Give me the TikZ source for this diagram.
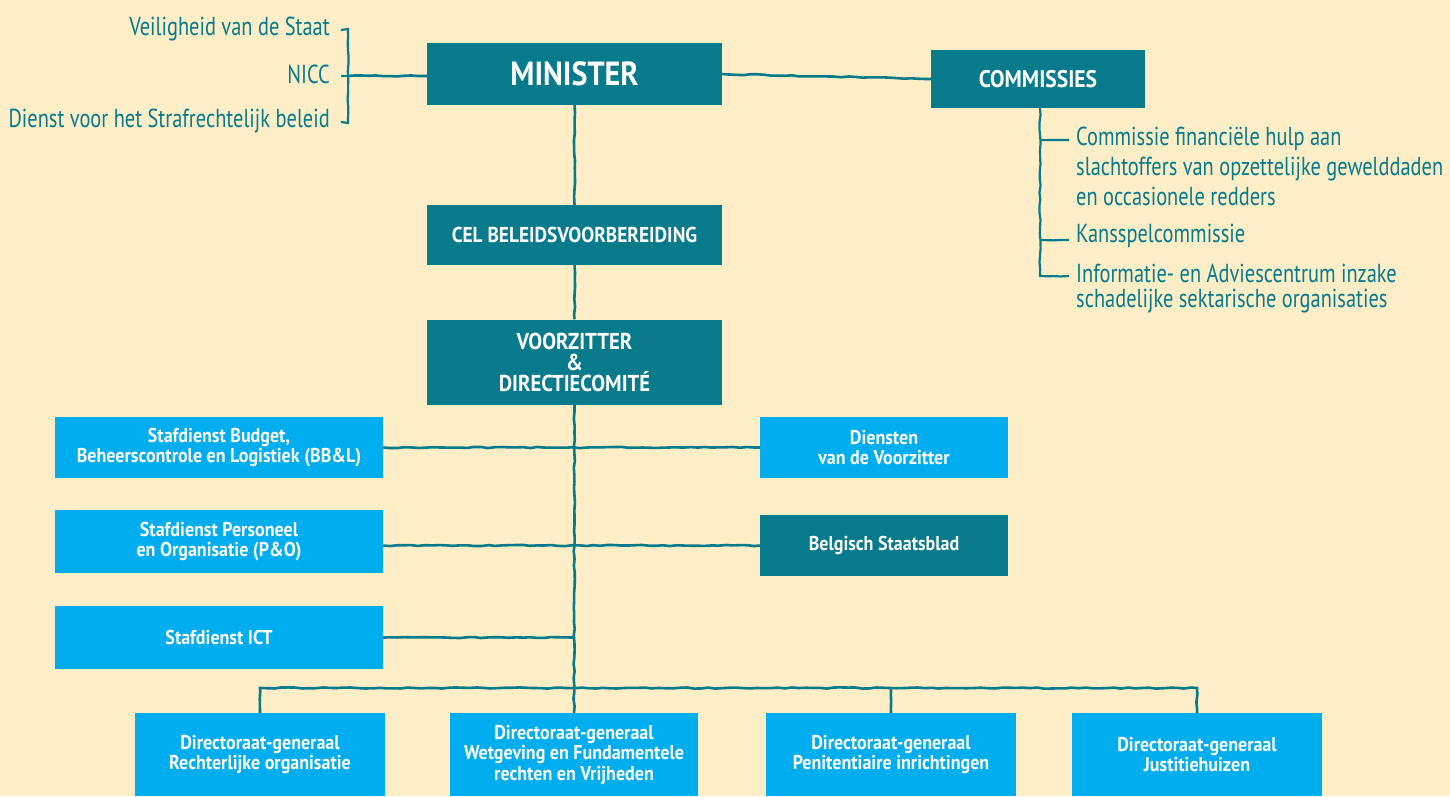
\documentclass[tikz,border=0pt]{standalone}
\usepackage{fontspec}
\setmainfont{PT Sans}[FakeStretch=0.785]
\newfontfamily\boxfont{PT Sans}[FakeStretch=0.9]
\usetikzlibrary{decorations.pathmorphing}
\definecolor{bg}{HTML}{FDEEC7}
\definecolor{dteal}{HTML}{077A8B}
\definecolor{lblue}{HTML}{00AEEF}
\begin{document}
\begin{tikzpicture}[x=1pt,y=-1pt,
  dbox/.style={fill=dteal,text=white,align=center,inner sep=0pt},
  lbox/.style={fill=lblue,text=white,align=center,inner sep=0pt,font=\boxfont\bfseries\fontsize{20}{20.5}\selectfont},
  conn/.style={draw=dteal,line width=2.6pt,decorate,decoration={random steps,segment length=7pt,amplitude=0.6pt}},
  lab/.style={text=dteal,inner sep=0pt,font=\fontsize{26}{30}\selectfont,align=left}]
\pgfmathsetseed{7}
\clip (0,0) rectangle (1450,796);
\fill[bg] (0,0) rectangle (1450,796);

% main boxes
\node[dbox,minimum width=295,minimum height=62,font=\boxfont\bfseries\fontsize{33.5}{36}\selectfont] (minister) at (574.5,74) {MINISTER};
\node[dbox,minimum width=214,minimum height=58,font=\boxfont\bfseries\fontsize{24}{26}\selectfont] (comm) at (1038,79) {COMMISSIES};
\node[dbox,minimum width=295,minimum height=60,font=\boxfont\bfseries\fontsize{21.5}{24}\selectfont] (cel) at (574.5,235) {CEL BELEIDSVOORBEREIDING};
\node[dbox,minimum width=295,minimum height=85,font=\boxfont\bfseries\fontsize{23}{21}\selectfont] (voor) at (574.5,362) {VOORZITTER\\\&\\DIRECTIECOMITÉ};

% staff boxes
\node[lbox,minimum width=328,minimum height=61] (budget) at (219,447.5) {Stafdienst Budget,\\Beheerscontrole en Logistiek (BB\&L)};
\node[lbox,minimum width=248,minimum height=61] (diensten) at (884,447.5) {Diensten\\van de Voorzitter};
\node[lbox,minimum width=328,minimum height=63] (personeel) at (219,541.5) {Stafdienst Personeel\\en Organisatie (P\&O)};
\node[dbox,minimum width=248,minimum height=61,font=\boxfont\bfseries\fontsize{20}{20.5}\selectfont] (staats) at (884,545.5) {Belgisch Staatsblad};
\node[lbox,minimum width=328,minimum height=63] (ict) at (219,637.5) {Stafdienst ICT};

% DG boxes
\node[lbox,minimum width=250,minimum height=83] (dg1) at (260,754.5) {Directoraat-generaal\\Rechterlijke organisatie};
\node[lbox,minimum width=248,minimum height=83] (dg2) at (574,754.5) {Directoraat-generaal\\Wetgeving en Fundamentele\\rechten en Vrijheden};
\node[lbox,minimum width=250,minimum height=83] (dg3) at (891,754.5) {Directoraat-generaal\\Penitentiaire inrichtingen};
\node[lbox,minimum width=250,minimum height=83] (dg4) at (1197,754.5) {Directoraat-generaal\\Justitiehuizen};

% left labels
\node[lab,anchor=base east] (vds) at (330,35) {Veiligheid van de Staat};
\node[lab,anchor=base east] (nicc) at (330,83) {NICC};
\node[lab,anchor=base east] (dsb) at (330,127) {Dienst voor het Strafrechtelijk beleid};

% right labels (base anchor = last line)
\node[lab,anchor=base west] (cf) at (1076,205) {Commissie financiële hulp aan\\slachtoffers van opzettelijke gewelddaden\\en occasionele redders};
\node[lab,anchor=base west] (ks) at (1076,242) {Kansspelcommissie};
\node[lab,anchor=base west,font=\fontsize{26}{25}\selectfont] (iac) at (1076,307) {Informatie- en Adviescentrum inzake\\schadelijke sektarische organisaties};

% left bracket
\coordinate (lt) at (348,29);
\coordinate (lm) at (348,76);
\coordinate (lb) at (348,123);
\coordinate (lt0) at (341,30);
\coordinate (lm0) at (341,76);
\coordinate (lb0) at (341,122);
\draw[conn,line width=2.2pt] (lt0) -- (lt) -- (lb) -- (lb0);
\draw[conn,line width=2.2pt] (lm0) -- (lm);
\draw[conn] (lm) -- (minister.west |- lm);

% commissies bracket
\coordinate (c1) at (1040,140);
\coordinate (c2) at (1040,240);
\coordinate (c3) at (1040,276);
\coordinate (c1e) at (1069,140);
\coordinate (c2e) at (1069,240);
\coordinate (c3e) at (1069,276);
\draw[conn,line width=2.2pt] (comm.south -| c1) -- (c3) -- (c3e);
\draw[conn,line width=2.2pt] (c1) -- (c1e);
\draw[conn,line width=2.2pt] (c2) -- (c2e);

% main connectors
\draw[conn] (minister.east) -- (comm.west);
\draw[conn] (minister.south) -- (cel.north);
\draw[conn] (cel.south) -- (voor.north);
\draw[conn] (voor.south) -- (dg2.north);
\draw[conn] (budget.east) -- (diensten.west);
\draw[conn] (personeel.east |- staats.west) -- (staats.west);
\draw[conn] (ict.east) -- (ict.east -| voor.south);
\coordinate (bar) at (576,688);
\draw[conn] (dg1.north) -- (dg1.north |- bar) -- (dg4.north |- bar) -- (dg4.north);
\draw[conn] (dg3.north |- bar) -- (dg3.north);
\end{tikzpicture}
\end{document}
